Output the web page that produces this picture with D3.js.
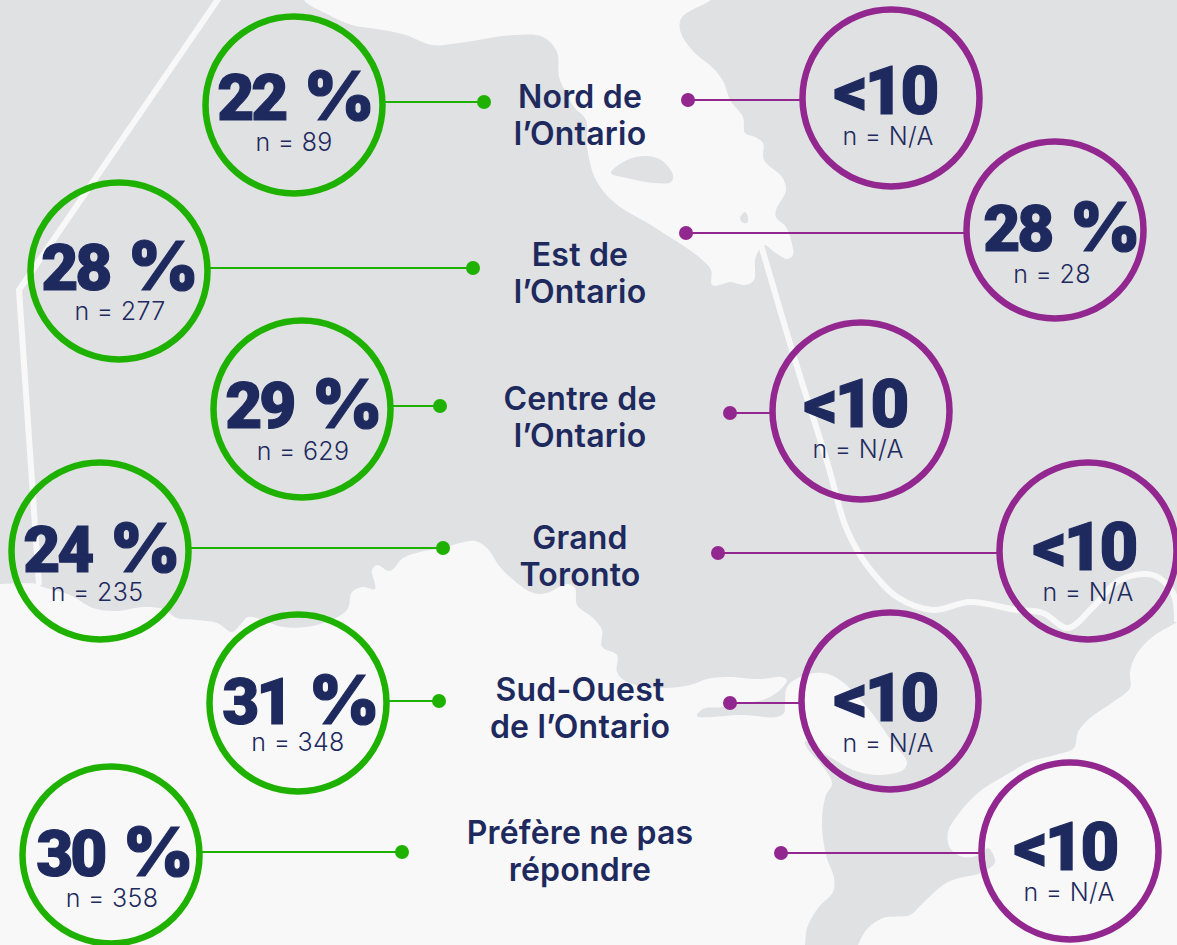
<!DOCTYPE html>
<html>
<head>
<meta charset="utf-8">
<script src="https://cdnjs.cloudflare.com/ajax/libs/d3/7.8.5/d3.min.js"></script>
<style>
  html, body { margin: 0; padding: 0; background: #f8f8f8; }
  svg { display: block; }
  text { fill: #1e2a5e; text-anchor: middle; }
  .big { font-family: Roboto, sans-serif; font-weight: 900; font-size: 67px; letter-spacing: -3px; stroke: #1e2a5e; stroke-width: 1.2px; }
  .big .digits { font-size: 64px; }
  .big .pct { font-family: Inter, sans-serif; font-size: 68px; letter-spacing: 0; }
  .small { font-family: Inter, sans-serif; font-weight: 300; font-size: 25px; letter-spacing: 0.3px; }
  .region { font-family: Inter, sans-serif; font-weight: 600; font-size: 32px; letter-spacing: 0.2px; }
</style>
</head>
<body>
<svg id="chart" width="1177" height="945"></svg>
<script>
// values
const regions = [
    ["Nord de", "l\u2019Ontario"],
    ["Est de", "l\u2019Ontario"],
    ["Centre de", "l\u2019Ontario"],
    ["Grand", "Toronto"],
    ["Sud-Ouest", "de l\u2019Ontario"],
    ["Pr\u00e9f\u00e8re ne pas", "r\u00e9pondre"]
];
const greenValues = ["22 %", "28 %", "29 %", "24 %", "31 %", "30 %"];
const greenCounts = ["n = 89", "n = 277", "n = 629", "n = 235", "n = 348", "n = 358"];
const purpleValues = ["<10", "28 %", "<10", "<10", "<10", "<10"];
const purpleCounts = ["n = N/A", "n = 28", "n = N/A", "n = N/A", "n = N/A", "n = N/A"];

// layout of the bubbles, one entry per region
const greenLayout = [
    { cx: 294, cy: 105, lineY: 102, dotX: 484, bigX: 296, bigY: 120, smallX: 294, smallY: 151 },
    { cx: 119, cy: 271, lineY: 268, dotX: 473, bigX: 120, bigY: 290, smallX: 120, smallY: 320 },
    { cx: 302, cy: 409, lineY: 406, dotX: 440, bigX: 304, bigY: 428, smallX: 303, smallY: 460 },
    { cx: 100, cy: 551, lineY: 548, dotX: 443, bigX: 102, bigY: 572, smallX: 97, smallY: 601 },
    { cx: 298, cy: 703, lineY: 701, dotX: 439, bigX: 301, bigY: 724, smallX: 298, smallY: 751 },
    { cx: 111, cy: 855, lineY: 852, dotX: 402, bigX: 115, bigY: 876, smallX: 112, smallY: 907 }
];
const purpleLayout = [
    { cx: 891, cy: 98, lineY: 100, dotX: 688, bigX: 885, bigY: 114, smallX: 888, smallY: 145 },
    { cx: 1055, cy: 230, lineY: 233, dotX: 686, bigX: 1062, bigY: 251, smallX: 1052, smallY: 283 },
    { cx: 861, cy: 411, lineY: 413, dotX: 730, bigX: 855, bigY: 427, smallX: 858, smallY: 458 },
    { cx: 1088, cy: 551, lineY: 553, dotX: 718, bigX: 1084, bigY: 570, smallX: 1088, smallY: 601 },
    { cx: 890, cy: 701, lineY: 703, dotX: 730, bigX: 885, bigY: 721, smallX: 888, smallY: 752 },
    { cx: 1070, cy: 851, lineY: 853, dotX: 781, bigX: 1065, bigY: 870, smallX: 1069, smallY: 901 }
];
const ringRadius = 88.5;
const labelX = 580;
const labelY = [108, 266, 410, 549, 701, 844];
const labelGap = 37;

// outline of the map behind the bubbles
const landOutline = [
    [-10,-10],[304,-10],[304,0],[329,15],[352,25],[383,30],[406,35],[432,45],[459,43],[513,35],[543,37],[557,52],[559,77],[566,93],[574,107],[586,120],
    [587,147],[596,180],[615,203],[654,227],[699,257],[711,270],[712,285],[720,285],[730,282],[745,285],[754,280],[755,260],[758,252],
    [764,245],[776,253],[787,259],[793,255],[791,240],[786,227],[776,217],[776,210],[786,190],[782,177],[764,160],[763,143],[755,137],[745,133],[743,117],[730,100],[724,83],[715,70],[692,50],[680,30],[682,17],[711,0],[720,-10],
    [1187,-10],[1187,615],[1177,622],[1151,638],[1136,655],[1130,672],[1130,688],[1113,702],[1090,718],[1078,732],[1074,748],[1055,755],[1029,762],[1006,775],[979,792],[960,812],[948,832],[950,848],[963,857],[979,855],[988,848],[995,862],[983,872],[948,882],[921,905],[910,915],[883,918],[868,928],[858,945],[855,955],
    [803,955],[805,945],[807,928],[818,908],[833,892],[834,878],[826,855],[822,822],[826,795],[832,785],[830,777],[820,763],[807,748],[805,741],
    [830,757],[853,770],[877,775],[903,770],[907,762],[893,743],[867,707],[840,680],[823,673],[800,677],[787,687],[785,703],[784,713],[777,717],[743,715],[697,716],
    [703,709],[723,707],[740,703],[763,700],[780,690],[787,680],[782,677],[760,679],[727,677],[707,679],[690,685],[660,688],[627,682],[617,672],[617,655],[602,647],[602,630],[593,618],[577,605],[575,588],[567,584],[547,593],[533,593],[517,583],[500,567],[487,548],[475,541],[460,543],[443,548],[420,552],[403,558],[390,571],[377,565],[372,570],[375,589],[363,587],[352,592],[347,610],[317,625],[283,627],[263,620],[248,617],[240,625],[232,632],[217,623],[197,620],[177,618],[163,609],[143,607],[117,611],[93,608],[70,595],[43,587],[36,584],[0,584],[-10,584]
];
const bayIsland = [[611,173],[627,160],[646,156],[661,160],[673,175],[671,182],[654,183],[627,178]];
const smallIsland = [[740,218],[745,212],[748,217],[747,223],[742,222]];
const westBorder = [[221,-5],[19,290],[39,585]];
const eastBorder = [[761,245],[795,360],[828,465],[845,525],[860,555],[873,573],[897,597],[933,610],[970,602],[1017,610],[1043,613],[1068,628],[1093,607],[1120,580],[1153,575],[1173,593],[1177,622]];

const svg = d3.select("#chart");
const curve = d3.line().curve(d3.curveCatmullRom.alpha(0.5));
const closedCurve = d3.line().curve(d3.curveCatmullRomClosed.alpha(0.5));

const mapLayer = svg.append("g");
mapLayer.append("path").attr("d", curve(landOutline) + "Z").attr("fill", "#e0e1e3");
mapLayer.selectAll(".island")
    .data([bayIsland, smallIsland])
    .enter()
    .append("path")
    .attr("class", "island")
    .attr("d", d => closedCurve(d))
    .attr("fill", "#e0e1e3");
mapLayer.append("path")
    .attr("d", d3.line()(westBorder))
    .attr("fill", "none")
    .attr("stroke", "#f8f8f8")
    .attr("stroke-width", 6);
mapLayer.append("path")
    .attr("d", curve(eastBorder))
    .attr("fill", "none")
    .attr("stroke", "#f8f8f8")
    .attr("stroke-width", 6);

function drawSide(layout, values, counts, color) {
    const group = svg.append("g")
        .selectAll("g")
        .data(layout.map((d, i) => ({ ...d, value: values[i], count: counts[i] })))
        .enter()
        .append("g");

    // connector stops at the ring, on whichever side the dot is
    group.append("line")
        .attr("x1", d => d.cx + (d.dotX > d.cx ? ringRadius : -ringRadius))
        .attr("x2", d => d.dotX)
        .attr("y1", d => d.lineY)
        .attr("y2", d => d.lineY)
        .attr("stroke", color)
        .attr("stroke-width", 2);

    group.append("circle")
        .attr("cx", d => d.dotX)
        .attr("cy", d => d.lineY)
        .attr("r", 7)
        .attr("fill", color);

    group.append("circle")
        .attr("cx", d => d.cx)
        .attr("cy", d => d.cy)
        .attr("r", ringRadius)
        .attr("fill", "none")
        .attr("stroke", color)
        .attr("stroke-width", 6.5);

    const big = group.append("text")
        .attr("class", "big")
        .attr("x", d => d.bigX)
        .attr("y", d => d.bigY);
    big.append("tspan")
        .attr("class", d => d.value.includes("%") ? "digits" : null)
        .text(d => d.value.replace(" %", ""));
    big.filter(d => d.value.includes("%"))
        .append("tspan")
        .attr("class", "pct")
        .attr("dx", 5)
        .text(" %");

    group.append("text")
        .attr("class", "small")
        .attr("x", d => d.smallX)
        .attr("y", d => d.smallY)
        .text(d => d.count);
}

drawSide(greenLayout, greenValues, greenCounts, "#1fb100");
drawSide(purpleLayout, purpleValues, purpleCounts, "#92278f");

svg.append("g")
    .selectAll("text")
    .data(regions)
    .enter()
    .append("text")
    .attr("class", "region")
    .attr("transform", (d, i) => `translate(${labelX},${labelY[i]})`)
    .selectAll("tspan")
    .data(d => d)
    .enter()
    .append("tspan")
    .attr("x", 0)
    .attr("y", (d, i) => i * labelGap)
    .text(d => d);
</script>
</body>
</html>
